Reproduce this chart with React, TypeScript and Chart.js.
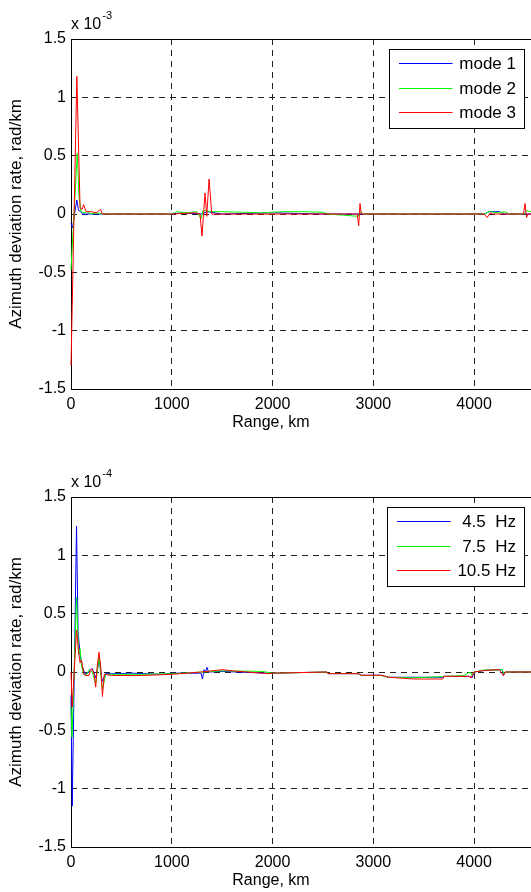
import React, { useEffect, useRef } from "react";
import { Chart, registerables } from "chart.js";

Chart.register(...registerables);

const FONT = '"Liberation Sans", Arial, Helvetica, sans-serif';

// ---- axes / ticks ----
const RANGE_TICKS = [0, 1000, 2000, 3000, 4000]; // km
const RANGE_MAX = 4654; // km (right part of the axes is cropped off in the picture)
const RATE_TICKS = [-1.5, -1, -0.5, 0, 0.5, 1, 1.5];
const X_TITLE = "Range, km";
const Y_TITLE = "Azimuth deviation rate, rad/km";
const COLORS = ["#0000ff", "#00ff00", "#ff0000"];

// ---- top panel (values in units of 1e-3 rad/km) ----
const TOP_EXPONENT = "-3";
const MODE_LABELS = ["mode 1", "mode 2", "mode 3"];

const MODE1_RANGE = [0, 15, 35, 58, 75, 95, 115, 300, 1000, 1100, 1300, 1350, 1500, 2000, 2500, 2600, 4100, 4150, 4250, 4300, 4500, 4654];
const MODE1_RATE = [-0.08, -0.12, 0.0, 0.12, 0.03, 0.02, 0.0, 0.0, 0.0, 0.01, 0.0, 0.02, 0.0, 0.01, 0.0, 0.0, 0.0, 0.02, 0.02, 0.0, 0.0, 0.0];

const MODE2_RANGE = [0, 62, 80, 100, 130, 160, 200, 250, 300, 1000, 1050, 1150, 1250, 1290, 1310, 1400, 1500, 1700, 1900, 2100, 2300, 2500, 2550, 2850, 2870, 2900, 4100, 4150, 4250, 4300, 4350, 4500, 4520, 4654];
const MODE2_RATE = [-0.48, 0.52, 0.15, 0.02, 0.01, 0.02, 0.0, 0.01, 0.0, 0.0, 0.02, 0.01, 0.02, -0.04, 0.03, 0.02, 0.02, 0.015, 0.01, 0.02, 0.02, 0.015, 0.0, -0.02, 0.02, 0.0, 0.0, 0.02, 0.01, 0.02, 0.0, 0.0, 0.03, 0.0];

const MODE3_RANGE = [0, 58, 90, 110, 125, 150, 200, 250, 280, 295, 310, 1000, 1230, 1280, 1300, 1330, 1347, 1370, 1397, 2840, 2855, 2868, 2880, 4100, 4130, 4160, 4180, 4490, 4505, 4520, 4535, 4654];
const MODE3_RATE = [-1.3, 1.18, 0.05, 0.04, 0.08, 0.02, 0.02, 0.01, 0.03, 0.04, 0.0, 0.0, 0.01, 0.0, -0.19, 0.18, -0.02, 0.3, 0.0, 0.0, -0.1, 0.09, 0.0, 0.0, -0.03, 0.01, 0.0, 0.0, 0.09, -0.03, 0.0, 0.0];

// ---- bottom panel (values in units of 1e-4 rad/km) ----
const BOTTOM_EXPONENT = "-4";
const FREQ_LABELS = ["4.5  Hz", "7.5  Hz", "10.5 Hz"];

const F45_RANGE = [0, 12, 55, 70, 90, 110, 140, 180, 210, 245, 280, 310, 345, 400, 600, 900, 1000, 1290, 1305, 1320, 1335, 1350, 1365, 1500, 1950, 2000, 2540, 2550, 2850, 2880, 3080, 3150, 3690, 3700, 3950, 3980, 4000, 4110, 4280, 4290, 4310, 4654];
const F45_RATE = [-0.2, -1.15, 1.25, 0.35, 0.15, 0.05, -0.02, 0.0, 0.03, -0.05, 0.1, -0.08, -0.01, -0.015, -0.01, -0.02, -0.01, -0.01, -0.06, 0.02, 0.0, 0.04, 0.0, 0.005, -0.01, -0.01, 0.0, -0.014, -0.014, -0.028, -0.028, -0.045, -0.045, -0.037, -0.037, -0.05, 0.0, 0.014, 0.02, -0.03, 0.0, 0.0];

const F75_RANGE = [0, 10, 55, 75, 90, 105, 125, 150, 180, 210, 245, 278, 312, 345, 400, 700, 1000, 1300, 1500, 1900, 2000, 2540, 2550, 2850, 2880, 3080, 3150, 3400, 3690, 3900, 3960, 3980, 4000, 4110, 4200, 4280, 4295, 4310, 4654];
const F75_RATE = [-0.3, -0.56, 0.64, 0.15, 0.2, 0.05, -0.02, -0.03, 0.02, 0.0, -0.1, 0.13, -0.15, -0.02, -0.02, -0.02, -0.015, 0.0, 0.01, 0.005, -0.01, 0.0, -0.014, -0.014, -0.03, -0.03, -0.045, -0.05, -0.04, -0.03, 0.0, -0.03, 0.0, 0.018, 0.015, 0.02, -0.02, 0.0, 0.0];

const F105_RANGE = [0, 12, 55, 78, 90, 105, 128, 150, 178, 195, 212, 230, 245, 260, 278, 295, 312, 330, 345, 400, 700, 1000, 1290, 1400, 1500, 1600, 1750, 1950, 2000, 2540, 2550, 2850, 2880, 3080, 3150, 3400, 3690, 3700, 3950, 3970, 4000, 4110, 4250, 4290, 4310, 4654];
const F105_RATE = [0.0, -0.3, 0.36, 0.15, 0.08, 0.1, -0.02, -0.03, -0.03, 0.02, 0.02, -0.02, -0.13, 0.05, 0.17, 0.05, -0.21, -0.02, -0.02, -0.03, -0.03, -0.02, 0.0, 0.01, 0.02, 0.01, 0.0, -0.014, -0.01, 0.0, -0.014, -0.014, -0.028, -0.028, -0.045, -0.06, -0.06, -0.037, -0.037, -0.05, 0.0, 0.014, 0.02, -0.03, 0.0, 0.0];

type Series = { label: string; range: number[]; rate: number[] };

const TOP_SERIES: Series[] = [
  { label: MODE_LABELS[0], range: MODE1_RANGE, rate: MODE1_RATE },
  { label: MODE_LABELS[1], range: MODE2_RANGE, rate: MODE2_RATE },
  { label: MODE_LABELS[2], range: MODE3_RANGE, rate: MODE3_RATE },
];
const BOTTOM_SERIES: Series[] = [
  { label: FREQ_LABELS[0], range: F45_RANGE, rate: F45_RATE },
  { label: FREQ_LABELS[1], range: F75_RANGE, rate: F75_RATE },
  { label: FREQ_LABELS[2], range: F105_RANGE, rate: F105_RATE },
];

const decorPlugin = {
  id: "decor",
  beforeDatasetsDraw(chart: any) {
    const { ctx, chartArea: a } = chart;
    ctx.save();
    ctx.strokeStyle = "#000";
    ctx.lineWidth = 1;
    const L = Math.round(a.left) + 0.5;
    const T = Math.round(a.top) + 0.5;
    const B = Math.round(a.bottom) + 0.5;
    const R = Math.round(a.right) + 0.5;
    ctx.beginPath();
    ctx.moveTo(R, T);
    ctx.lineTo(L, T);
    ctx.lineTo(L, B);
    ctx.lineTo(R, B);
    ctx.lineTo(R, T);
    ctx.stroke();
    ctx.restore();
  },
  afterDraw(chart: any, _args: any, opts: any) {
    const { ctx, chartArea: a } = chart;
    ctx.save();
    ctx.fillStyle = "#000";

    // exponent label
    ctx.font = `16px ${FONT}`;
    ctx.textAlign = "left";
    ctx.textBaseline = "alphabetic";
    const base = a.top - 10;
    const mult = "x 10";
    ctx.fillText(mult, a.left, base);
    const mw = ctx.measureText(mult).width;
    ctx.font = `11px ${FONT}`;
    ctx.fillText(opts.exponent, a.left + mw + 1, base - 10);

    // y title
    ctx.font = `17px ${FONT}`;
    ctx.save();
    ctx.translate(opts.yTitleX, (a.top + a.bottom) / 2);
    ctx.rotate(-Math.PI / 2);
    ctx.textAlign = "center";
    ctx.textBaseline = "middle";
    ctx.fillText(Y_TITLE, 0, 0);
    ctx.restore();

    // x title
    ctx.font = `16px ${FONT}`;
    ctx.textAlign = "center";
    ctx.textBaseline = "middle";
    ctx.fillText(X_TITLE, opts.xTitleX, a.bottom + 34);

    // legend
    const ds = chart.data.datasets;
    ctx.font = `17px ${FONT}`;
    const textW = Math.max(...ds.map((d: any) => ctx.measureText(d.label).width));
    const boxW = Math.round(10 + 53.5 + 7 + textW + 8);
    const boxH = 79;
    const right = opts.legendRight;
    const left = right - boxW;
    const top = Math.round(a.top + 10);
    ctx.fillStyle = "#fff";
    ctx.fillRect(left, top, boxW, boxH);
    ctx.strokeStyle = "#000";
    ctx.lineWidth = 1;
    ctx.strokeRect(left + 0.5, top + 0.5, boxW, boxH);
    ds.forEach((d: any, i: number) => {
      const y = Math.round(top + 14 + i * 24.5) + 0.5;
      ctx.strokeStyle = d.borderColor;
      ctx.beginPath();
      ctx.moveTo(left + 10, y);
      ctx.lineTo(left + 63.5, y);
      ctx.stroke();
      ctx.fillStyle = "#000";
      ctx.textAlign = "right";
      ctx.textBaseline = "middle";
      ctx.fillText(d.label, right - 8, y + 1);
    });
    ctx.restore();
  },
};

type PanelProps = {
  series: Series[];
  exponent: string;
  padTop: number;
  xAxisHeight: number;
};

function Panel({ series, exponent, padTop, xAxisHeight }: PanelProps) {
  const ref = useRef<HTMLCanvasElement | null>(null);
  useEffect(() => {
    if (!ref.current) return;
    const chart = new Chart(ref.current, {
      type: "line",
      data: {
        datasets: series.map((s, i) => ({
          label: s.label,
          data: s.range.map((x, j) => ({ x, y: s.rate[j] })),
          borderColor: COLORS[i],
          backgroundColor: COLORS[i],
          borderWidth: 1,
          pointRadius: 0,
          tension: 0,
          fill: false,
          clip: 2,
          order: series.length - i,
        })),
      },
      options: {
        animation: false,
        responsive: false,
        events: [],
        layout: { padding: { top: padTop, left: 0, right: 0, bottom: 0 } },
        plugins: {
          legend: { display: false },
          tooltip: { enabled: false },
          decor: { exponent, yTitleX: 16.5, xTitleX: 271, legendRight: 524 },
        } as any,
        scales: {
          x: {
            type: "linear",
            min: 0,
            max: RANGE_MAX,
            afterBuildTicks: (s: any) => {
              s.ticks = RANGE_TICKS.map((value) => ({ value }));
            },
            afterFit: (s: any) => {
              s.height = xAxisHeight;
            },
            ticks: {
              autoSkip: false,
              maxRotation: 0,
              padding: 6,
              color: "#000",
              font: { family: FONT, size: 16 },
              callback: (v: any) => String(Math.round(Number(v))),
            },
            grid: { color: "#222", lineWidth: 1, drawTicks: false },
            border: { display: false, dash: [6, 5] },
          },
          y: {
            type: "linear",
            min: RATE_TICKS[0],
            max: RATE_TICKS[RATE_TICKS.length - 1],
            afterBuildTicks: (s: any) => {
              s.ticks = RATE_TICKS.map((value) => ({ value }));
            },
            afterFit: (s: any) => {
              s.width = 71;
            },
            ticks: {
              autoSkip: false,
              padding: 5,
              color: "#000",
              font: { family: FONT, size: 16 },
              callback: (v: any) => String(Math.round(Number(v) * 10) / 10),
            },
            grid: { color: "#222", lineWidth: 1, drawTicks: false },
            border: { display: false, dash: [6, 5] },
          },
        },
      },
      plugins: [decorPlugin as any],
    });
    return () => chart.destroy();
  }, []);
  return <canvas ref={ref} width={540} height={446} style={{ display: "block", width: 540, height: 446 }} />;
}

export default function App() {
  return (
    <div
      style={{
        position: "absolute",
        left: 0,
        top: 0,
        width: 531,
        height: 892,
        overflow: "hidden",
        background: "#fff",
      }}
    >
      <Panel series={TOP_SERIES} exponent={TOP_EXPONENT} padTop={39} xAxisHeight={57} />
      <Panel series={BOTTOM_SERIES} exponent={BOTTOM_EXPONENT} padTop={51} xAxisHeight={45} />
    </div>
  );
}
